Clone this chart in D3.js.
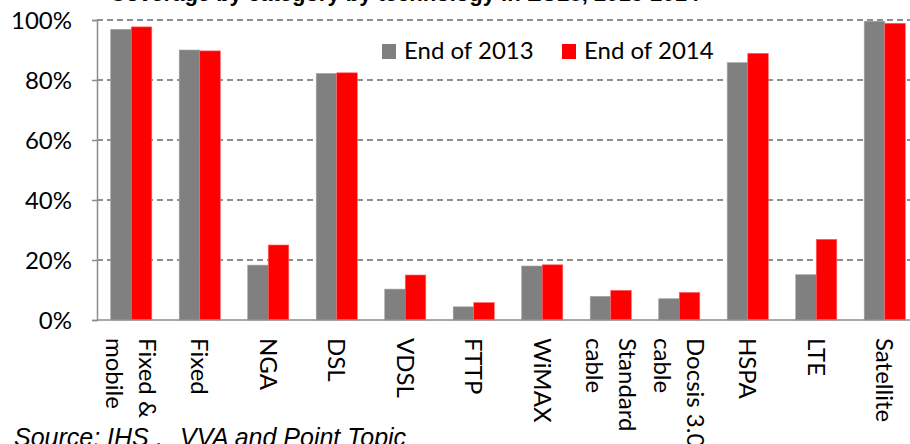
<!DOCTYPE html>
<html>
<head>
<meta charset="utf-8">
<script src="https://cdn.jsdelivr.net/npm/d3@7"></script>
<style>
  body { margin: 0; background: #fff; }
  svg { display: block; }
  .lbl { font-family: Lato, "Open Sans", sans-serif; fill: #000; }
</style>
</head>
<body>
<div class="chart"></div>
<script>
var categories = [['Fixed &', 'mobile'], ['Fixed'], ['NGA'], ['DSL'], ['VDSL'], ['FTTP'], ['WiMAX'],
  ['Standard', 'cable'], ['Docsis 3.0', 'cable'], ['HSPA'], ['LTE'], ['Satellite']];
var seriesNames = ['End of 2013', 'End of 2014'];
var end2013 = [96.9, 90.0, 18.3, 82.2, 10.3, 4.4, 18.0, 7.9, 7.1, 85.8, 15.1, 99.6];
var end2014 = [97.7, 89.7, 25.0, 82.4, 15.0, 5.8, 18.4, 9.9, 9.2, 88.9, 26.9, 98.9];
var yTicks = [0, 20, 40, 60, 80, 100];
var colors = ['#808080', '#ff0000'];

var data = categories.map((c, i) => ({key: c.join(' '), lines: c, values: [end2013[i], end2014[i]]}));

const W = 910, H = 444;
const margin = { top: 20, left: 97 };
const plotW = 822, plotH = 300;

var svg = d3.select('.chart')
  .append('svg')
    .attr('width', W)
    .attr('height', H);

// title, mostly cut off above the picture
var title = svg.append('text')
  .attr('y', 1)
  .style('font-family', '"Liberation Sans", Arial, sans-serif')
  .style('font-weight', 'bold')
  .style('font-size', '22px')
  .text('Coverage by category by technology in EU28, 2013-2014');
var pre = svg.append('text')
  .style('font-family', '"Liberation Sans", Arial, sans-serif')
  .style('font-weight', 'bold')
  .style('font-size', '22px')
  .text('Coverage by cate');
var preW = pre.node().getComputedTextLength();
pre.remove();
title.attr('x', 292 - preW);

var g = svg.append('g')
  .attr('transform', `translate(${margin.left}, ${margin.top})`);

var x0 = d3.scaleBand()
  .domain(data.map(d => d.key))
  .range([0, plotW])
  .paddingInner(0.4)
  .paddingOuter(0.2);

var x1 = d3.scaleBand()
  .domain([0, 1])
  .range([0, x0.bandwidth()]);

var y = d3.scaleLinear()
  .domain([0, 100])
  .range([plotH, 0]);

// dashed gridlines
g.append('g')
  .selectAll('line')
  .data(yTicks.filter(t => t > 0))
  .join('line')
    .attr('x1', 0)
    .attr('x2', plotW)
    .attr('y1', d => y(d))
    .attr('y2', d => y(d))
    .attr('stroke', '#6a6a6a')
    .attr('stroke-width', 1.5)
    .attr('stroke-dasharray', '6,4');

// y axis
var yAxis = g.append('g')
  .call(d3.axisLeft(y).tickValues(yTicks).tickSize(5).tickPadding(20).tickFormat(d => d + '%'));
yAxis.select('.domain').attr('stroke', '#8c8c8c').attr('stroke-width', 1.5);
yAxis.selectAll('.tick line').attr('stroke', '#8c8c8c').attr('stroke-width', 1.5);
yAxis.selectAll('.tick text')
  .attr('class', 'lbl')
  .style('font-size', '24px')
  .attr('dy', '0.35em');
yAxis.attr('font-family', null).attr('font-size', null);

// bars
var groups = g.append('g')
  .selectAll('g')
  .data(data)
  .join('g')
    .attr('transform', d => `translate(${x0(d.key)}, 0)`);

groups.selectAll('rect')
  .data(d => d.values)
  .join('rect')
    .attr('x', (v, i) => x1(i))
    .attr('width', x1.bandwidth())
    .attr('y', v => y(v))
    .attr('height', v => plotH - y(v))
    .attr('fill', (v, i) => colors[i])
    .attr('stroke', (v, i) => i ? '#ff6666' : '#a6a6a6')
    .attr('stroke-width', 0.6);

// x axis line
g.append('line')
  .attr('x1', 0)
  .attr('x2', plotW)
  .attr('y1', plotH)
  .attr('y2', plotH)
  .attr('stroke', '#8c8c8c')
  .attr('stroke-width', 1.5);

// rotated category labels
var lh = 33;
var xl = g.append('g')
  .selectAll('text')
  .data(data)
  .join('text')
    .attr('class', 'lbl')
    .style('font-size', '24px')
    .attr('transform', d => `translate(${x0(d.key) + x0.bandwidth() / 2}, ${plotH + 18}) rotate(90)`);
xl.selectAll('tspan')
  .data(d => d.lines.map((t, i) => ({t, i, n: d.lines.length})))
  .join('tspan')
    .attr('x', 0)
    .attr('y', d => (d.i - (d.n - 1) / 2) * lh)
    .attr('dy', '0.35em')
    .text(d => d.t);

// legend
var legend = svg.append('g')
  .selectAll('g')
  .data(seriesNames)
  .join('g')
    .attr('transform', (d, i) => `translate(${[382, 562][i]}, 44)`);
legend.append('rect')
  .attr('width', 14)
  .attr('height', 15)
  .attr('fill', (d, i) => colors[i]);
legend.append('text')
  .attr('class', 'lbl')
  .style('font-size', '24px')
  .attr('x', 22)
  .attr('y', 15)
  .text(d => d);

// source note, cut at the bottom
var src = svg.append('text')
  .attr('y', 446)
  .style('font-family', '"Liberation Sans", Arial, sans-serif')
  .style('font-style', 'italic')
  .style('font-size', '25px');
src.append('tspan').attr('x', 14).text('Source: IHS ,');
src.append('tspan').attr('x', 180).text('VVA and Point Topic');
</script>
</body>
</html>
